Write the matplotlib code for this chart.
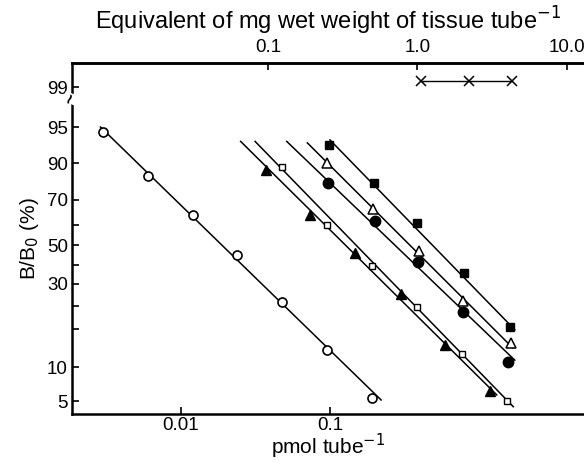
import numpy as np
import matplotlib
matplotlib.use('Agg')
from matplotlib import pyplot as plt
from matplotlib.ticker import FixedLocator, FixedFormatter, NullFormatter
import matplotlib.transforms as mtransforms

# pmol per tube for each standard / extract dilution, and B/B0 (%)
circle_x = [0.003, 0.006, 0.012, 0.024, 0.048, 0.096, 0.19]
circle_y = [94.3, 83.0, 64.1, 45.0, 21.7, 12.3, 5.5]
circle_fit = ([0.0029, 0.22], [95.0, 5.15])

tri_f_x = [0.037, 0.074, 0.148, 0.30, 0.59, 1.18]
tri_f_y = [86.2, 64.0, 46.2, 25.5, 12.9, 6.5]
tri_f_fit = ([0.0252, 1.31], [93.0, 5.9])

sq_o_x = [0.048, 0.096, 0.19, 0.38, 0.77, 1.54]
sq_o_y = [88.0, 60.0, 39.5, 19.8, 11.7, 5.0]
sq_o_fit = ([0.0315, 1.69], [93.0, 4.34])

circ_f_x = [0.097, 0.2, 0.39, 0.78, 1.55]
circ_f_y = [79.4, 61.6, 41.7, 18.7, 10.6]
circ_f_fit = ([0.0513, 1.73], [93.0, 10.9])

tri_o_x = [0.095, 0.195, 0.394, 0.78, 1.63]
tri_o_y = [89.8, 66.3, 47.0, 22.3, 13.2]
tri_o_fit = ([0.0705, 1.68], [92.8, 12.5])

sq_f_x = [0.099, 0.197, 0.381, 0.79, 1.607]
sq_f_y = [92.5, 79.0, 60.9, 36.0, 15.4]
sq_f_fit = ([0.1, 1.73], [93.2, 14.9])

# tissue equivalents (mg wet weight per tube), non-displaced row
cross_mg = [1.05, 2.2, 4.3]
cross_y = [100, 100, 100]

pmol_per_mg = 0.385

y_major = [5, 10, 30, 50, 70, 90, 95, 99]
y_minor = [15, 20, 40, 60]
x_bottom_ticks = [0.01, 0.1]
x_top_ticks = [0.1, 1.0, 10.0]
x_top_labels = ['0.1', '1.0', '10.0']

# probability axis as drawn (percent -> relative height)
axis_pct = [3.5, 5, 10, 15, 20, 30, 40, 50, 60, 70, 90, 95, 99, 100, 101]
axis_pos = [0, 13, 47, 85, 108, 130, 149, 169, 189, 214, 251, 287, 327, 333, 351]


def fwd(p):
    return np.interp(p, axis_pct, axis_pos)


def inv(v):
    return np.interp(v, axis_pos, axis_pct)


plt.rcParams['font.family'] = ['Liberation Sans', 'DejaVu Sans']

fig = plt.figure(figsize=(5.84, 4.62), dpi=100)
ax = fig.add_axes([72 / 584, 48 / 462, 512 / 584, 351 / 462])
ax.set_xscale('log')
ax.set_yscale('function', functions=(fwd, inv))
ax.set_xlim(0.00187, 5.03)
ax.set_ylim(3.5, 101)

lw = 1.1
ax.plot(*circle_fit, c='black', lw=lw)
ax.plot(*tri_f_fit, c='black', lw=lw)
ax.plot(*sq_o_fit, c='black', lw=lw)
ax.plot(*circ_f_fit, c='black', lw=lw)
ax.plot(*tri_o_fit, c='black', lw=lw)
ax.plot(*sq_f_fit, c='black', lw=lw)

ax.plot(circle_x, circle_y, 'o', ms=6.5, mfc='white', mec='black', mew=1.2)
ax.plot(tri_f_x, tri_f_y, '^', ms=7.5, mfc='black', mec='black')
ax.plot(sq_o_x, sq_o_y, 's', ms=5, mfc='white', mec='black', mew=1.0)
ax.plot(circ_f_x, circ_f_y, 'o', ms=7.5, mfc='black', mec='black')
ax.plot(tri_o_x, tri_o_y, '^', ms=7, mfc='white', mec='black', mew=1.1)
ax.plot(sq_f_x, sq_f_y, 's', ms=6, mfc='black', mec='black')

cross_x = [m * pmol_per_mg for m in cross_mg]
ax.plot(cross_x, cross_y, '-x', c='black', lw=1.0, ms=6.5, mew=1.1)

for side in ['left', 'bottom', 'top']:
    ax.spines[side].set_linewidth(1.8)
ax.spines['right'].set_visible(False)

ax.yaxis.set_major_locator(FixedLocator(y_major))
ax.yaxis.set_major_formatter(FixedFormatter([str(v) for v in y_major]))
ax.yaxis.set_minor_locator(FixedLocator(y_minor))
ax.yaxis.set_minor_formatter(NullFormatter())
ax.xaxis.set_major_locator(FixedLocator(x_bottom_ticks))
ax.xaxis.set_major_formatter(FixedFormatter(['0.01', '0.1']))
ax.xaxis.set_minor_locator(FixedLocator([]))
ax.tick_params(axis='both', which='both', direction='in', length=5,
               width=1.2, labelsize=13.5, pad=3)
ax.tick_params(axis='x', pad=2)

top = ax.secondary_xaxis('top', functions=(lambda x: x / pmol_per_mg,
                                          lambda x: x * pmol_per_mg))
top.xaxis.set_major_locator(FixedLocator(x_top_ticks))
top.xaxis.set_major_formatter(FixedFormatter(x_top_labels))
top.xaxis.set_minor_locator(FixedLocator([]))
top.tick_params(direction='in', length=5, width=1.2, labelsize=13.5, pad=5)
top.spines['top'].set_linewidth(1.8)
top.set_xlabel('Equivalent of mg wet weight of tissue tube$^{-1}$',
               fontsize=17, labelpad=7)

ax.set_xlabel('pmol tube$^{-1}$', fontsize=15)
ax.xaxis.set_label_coords(0.5, -0.052)
ax.set_ylabel('B/B$_0$ (%)', fontsize=15, labelpad=4)

# axis break mark between 95 and 99
trans = mtransforms.blended_transform_factory(ax.transAxes, ax.transData)
ax.text(0, 97.8, '~', transform=trans, rotation=70, fontsize=13,
        ha='center', va='center', fontweight='bold',
        bbox=dict(boxstyle='square,pad=0.0', fc='white', ec='none'))

fig.savefig('out.png', dpi=100)
